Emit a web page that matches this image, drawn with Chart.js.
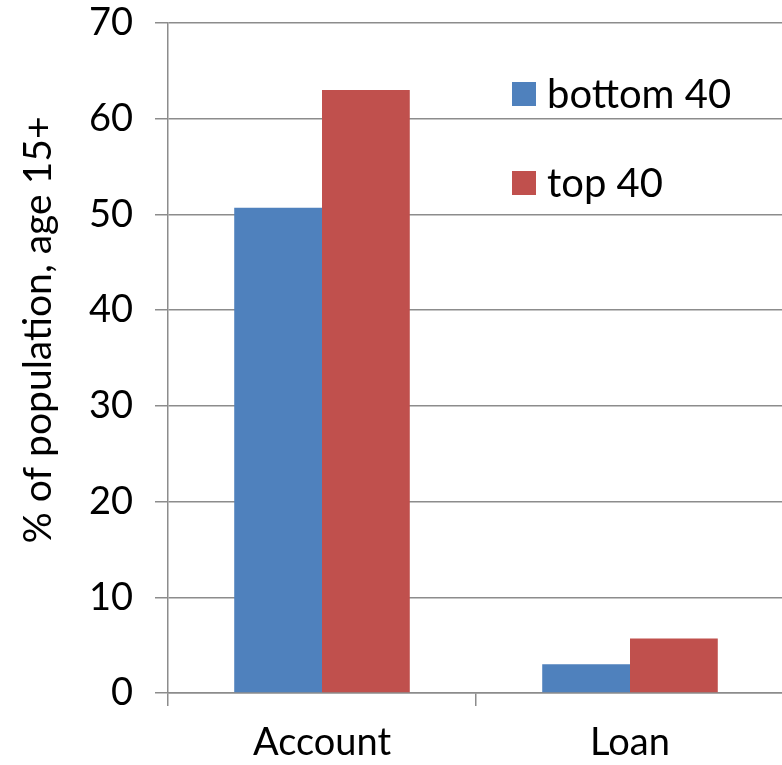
<!DOCTYPE html>
<html>
<head>
<meta charset="utf-8">
<script src="https://cdn.jsdelivr.net/npm/chart.js@4/dist/chart.umd.min.js"></script>
<style>
  html, body { margin: 0; padding: 0; background: #fff; overflow: hidden; }
  #wrap { width: 782px; height: 765px; overflow: hidden; position: relative; }
  #box { position: absolute; left: 0; top: 0; width: 786px; height: 765px; }
</style>
</head>
<body>
<div id="wrap"><div id="box"><canvas id="c"></canvas></div></div>
<script>
// Account ownership and borrowing by income group (% of population, age 15+)
const categories = ['Account', 'Loan'];
const bottom40 = [50.7, 3.0];
const top40 = [63.0, 5.7];
const seriesNames = ['bottom 40', 'top 40'];
const yTicks = [0, 10, 20, 30, 40, 50, 60, 70];
const yTitle = '% of population, age 15+';

const FONT = 'Lato, "Open Sans", sans-serif';
const GRID = '#8c8c8c';

// Legend drawn inside the plot area, stacked vertically at the upper right
const insideLegend = {
  id: 'insideLegend',
  afterDatasetsDraw(chart) {
    const { ctx, chartArea } = chart;
    ctx.save();
    ctx.font = '40px ' + FONT;
    ctx.textBaseline = 'middle';
    ctx.textAlign = 'left';
    chart.data.datasets.forEach((ds, i) => {
      const cy = chartArea.top + 71 + i * 89;
      const x = chartArea.left + 344;
      ctx.fillStyle = ds.backgroundColor;
      ctx.fillRect(x, cy - 12, 24, 24);
      ctx.fillStyle = '#000';
      ctx.fillText(ds.label, x + 35, cy + 1);
    });
    ctx.restore();
  }
};

// Rotated value-axis title, placed a little above the axis midpoint
const axisTitle = {
  id: 'axisTitle',
  afterDraw(chart) {
    const { ctx, chartArea } = chart;
    ctx.save();
    ctx.font = '39px ' + FONT;
    ctx.fillStyle = '#000';
    ctx.textAlign = 'center';
    ctx.textBaseline = 'middle';
    ctx.translate(38, (chartArea.top + chartArea.bottom) / 2 - 28);
    ctx.rotate(-Math.PI / 2);
    ctx.fillText(yTitle, 0, 0);
    ctx.restore();
  }
};

new Chart(document.getElementById('c'), {
  type: 'bar',
  data: {
    labels: categories,
    datasets: [
      { label: seriesNames[0], data: bottom40, backgroundColor: '#4F81BD' },
      { label: seriesNames[1], data: top40, backgroundColor: '#C0504D' }
    ]
  },
  options: {
    responsive: true,
    maintainAspectRatio: false,
    animation: false,
    devicePixelRatio: 1,
    layout: { padding: { top: 23, right: 2, left: 0, bottom: 0 } },
    datasets: { bar: { categoryPercentage: 0.57, barPercentage: 1.0 } },
    plugins: { legend: { display: false }, tooltip: { enabled: false } },
    scales: {
      x: {
        grid: { drawOnChartArea: false, drawTicks: true, tickLength: 13, color: GRID, lineWidth: 1.5, offset: true },
        border: { display: true, color: GRID, width: 1.5 },
        ticks: { color: '#000', font: { family: FONT, size: 38 }, padding: 14 },
        afterFit(scale) { scale.height = 72; scale.paddingLeft = 0; scale.paddingRight = 0; }
      },
      y: {
        min: 0, max: 70,
        afterBuildTicks(scale) { scale.ticks = yTicks.map(v => ({ value: v })); },
        grid: { color: GRID, lineWidth: 1.5, tickLength: 13 },
        border: { display: true, color: GRID, width: 1.5 },
        ticks: { color: '#000', font: { family: FONT, size: 38 }, padding: 22 },
        afterFit(scale) { scale.width = 168; scale.paddingTop = 0; scale.paddingBottom = 0; }
      }
    }
  },
  plugins: [insideLegend, axisTitle]
});
</script>
</body>
</html>
